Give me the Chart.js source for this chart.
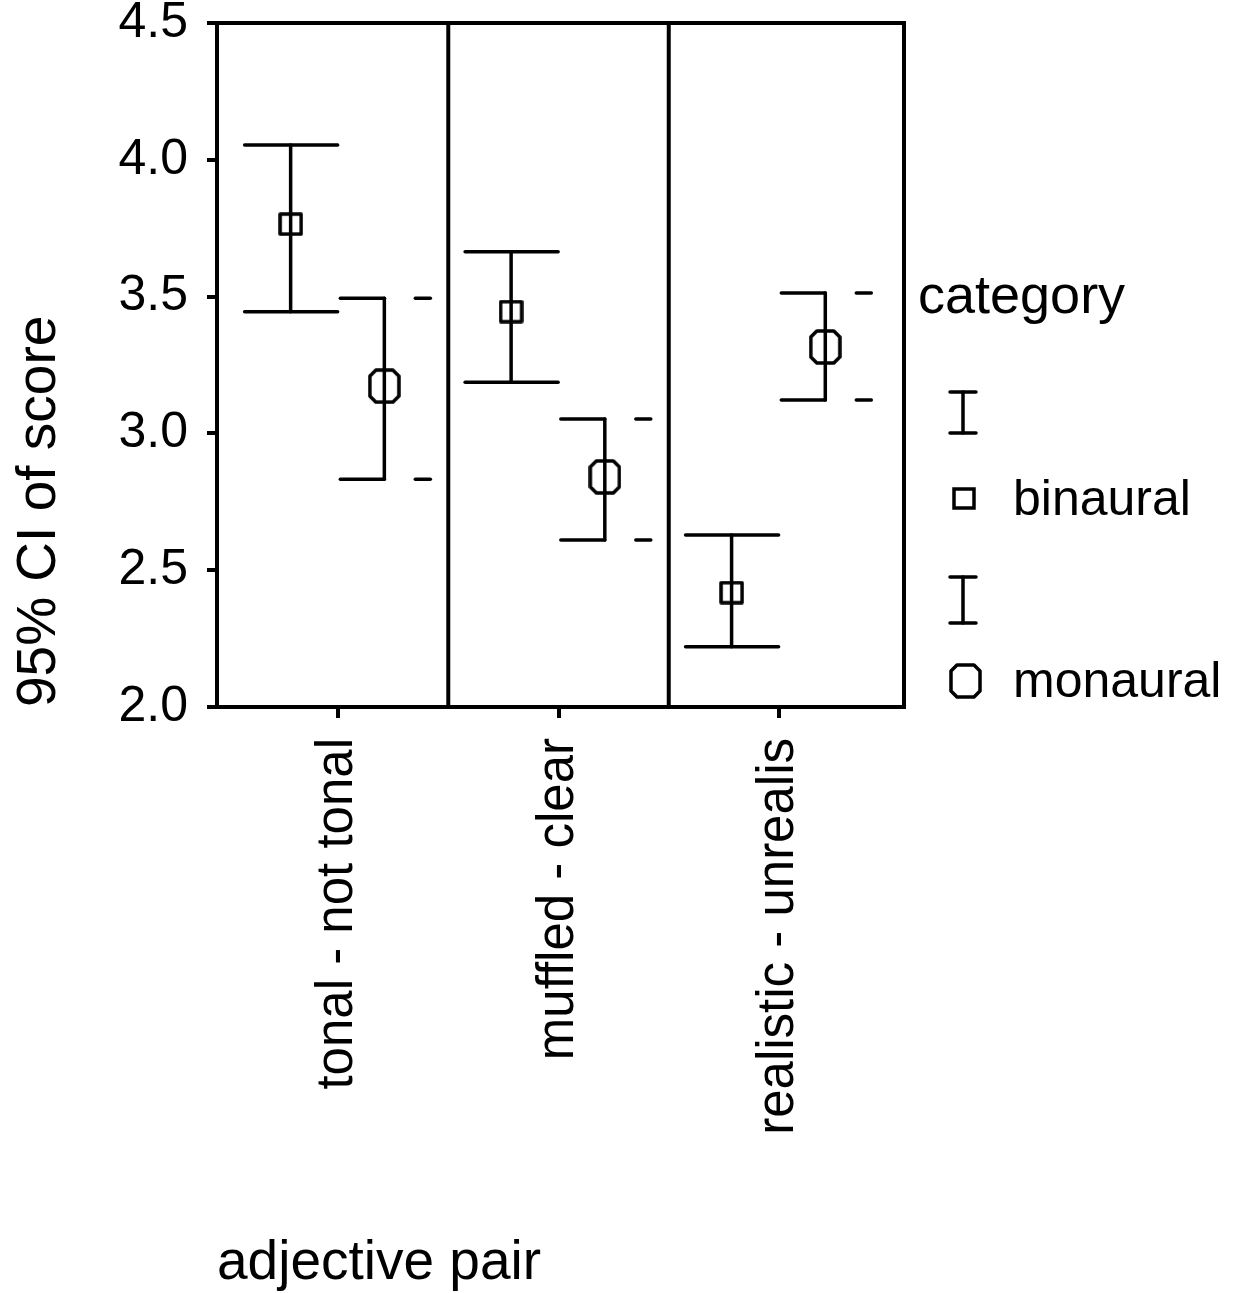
<!DOCTYPE html>
<html>
<head>
<meta charset="utf-8">
<script src="https://cdn.jsdelivr.net/npm/chart.js@4.4.1/dist/chart.umd.min.js"></script>
<style>
  html, body { margin: 0; padding: 0; background: #fff; }
  #wrap { width: 1233px; height: 1293px; position: relative; }
</style>
</head>
<body>
<div id="wrap"><canvas id="ciChart"></canvas></div>
<script>
const categories = ['tonal - not tonal', 'muffled - clear', 'realistic - unrealis'];
const binauralMean = [3.765, 3.445, 2.418];
const binauralLow = [3.445, 3.187, 2.220];
const binauralHigh = [4.054, 3.664, 2.629];
const monauralMean = [3.173, 2.841, 3.316];
const monauralLow = [2.832, 2.610, 3.122];
const monauralHigh = [3.494, 3.053, 3.513];
const yTicks = [2.0, 2.5, 3.0, 3.5, 4.0, 4.5];

const FONT = '"Liberation Sans", Arial, sans-serif';
const BIN_OFFSET = -0.215;
const MON_OFFSET = 0.21;
const LW = 3.5;

function makeOctagon(w, h, cut) {
    const c = document.createElement('canvas');
    c.width = w;
    c.height = h;
    const g = c.getContext('2d');
    const m = 2;
    g.lineWidth = LW;
    g.strokeStyle = '#000';
    g.lineJoin = 'round';
    g.beginPath();
    g.moveTo(m + cut, m);
    g.lineTo(w - m - cut, m);
    g.lineTo(w - m, m + cut);
    g.lineTo(w - m, h - m - cut);
    g.lineTo(w - m - cut, h - m);
    g.lineTo(m + cut, h - m);
    g.lineTo(m, h - m - cut);
    g.lineTo(m, m + cut);
    g.closePath();
    g.stroke();
    return c;
}

function makeSquare(w, h) {
    const c = document.createElement('canvas');
    c.width = w;
    c.height = h;
    const g = c.getContext('2d');
    g.lineWidth = LW;
    g.strokeStyle = '#000';
    g.lineJoin = 'round';
    g.strokeRect(2, 2, w - 4, h - 4);
    return c;
}

const octagon = makeOctagon(33, 36, 6);
const square = makeSquare(25, 24);

function seg(ctx, x1, y1, x2, y2) {
    ctx.beginPath();
    ctx.moveTo(x1, y1);
    ctx.lineTo(x2, y2);
    ctx.stroke();
}

// cadre + séparateurs verticaux
const frame = {
    id: 'frame',
    beforeDatasetsDraw(chart) {
        const { ctx, chartArea: a, scales: { x } } = chart;
        ctx.save();
        ctx.strokeStyle = '#000';
        ctx.lineWidth = 4;
        ctx.strokeRect(a.left, a.top, a.right - a.left, a.bottom - a.top);
        [0.5, 1.5].forEach(v => {
            const px = x.getPixelForValue(v);
            seg(ctx, px, a.top, px, a.bottom);
        });
        ctx.restore();
    }
};

// barres d'erreur (IC 95%)
const errorBars = {
    id: 'errorBars',
    beforeDatasetsDraw(chart) {
        const { ctx, scales: { x, y } } = chart;
        ctx.save();
        ctx.strokeStyle = '#000';
        ctx.lineWidth = LW;
        ctx.lineCap = 'round';
        categories.forEach((c, i) => {
            let px = x.getPixelForValue(i + BIN_OFFSET);
            let top = y.getPixelForValue(binauralHigh[i]);
            let bot = y.getPixelForValue(binauralLow[i]);
            seg(ctx, px, top, px, bot);
            seg(ctx, px - 46, top, px + 47, top);
            seg(ctx, px - 46, bot, px + 47, bot);

            px = x.getPixelForValue(i + MON_OFFSET);
            top = y.getPixelForValue(monauralHigh[i]);
            bot = y.getPixelForValue(monauralLow[i]);
            seg(ctx, px, top, px, bot);
            seg(ctx, px - 44, top, px, top);
            seg(ctx, px - 44, bot, px, bot);
            seg(ctx, px + 31, top, px + 46, top);
            seg(ctx, px + 31, bot, px + 46, bot);
        });
        ctx.restore();
    }
};

const legendBox = {
    id: 'legendBox',
    afterDraw(chart) {
        const ctx = chart.ctx;
        ctx.save();
        ctx.fillStyle = '#000';
        ctx.strokeStyle = '#000';
        ctx.lineWidth = LW;
        ctx.lineCap = 'round';
        ctx.textAlign = 'left';
        ctx.textBaseline = 'alphabetic';
        ctx.font = '54px ' + FONT;
        ctx.fillText('category', 918, 313);

        const drawI = (cx, top, bot) => {
            seg(ctx, cx, top, cx, bot);
            seg(ctx, cx - 13, top, cx + 13, top);
            seg(ctx, cx - 13, bot, cx + 13, bot);
        };
        drawI(963, 392, 433);
        drawI(963, 577, 623);

        ctx.strokeRect(954, 489, 20, 19);
        ctx.drawImage(octagon, 965 - 16, 681 - 18);

        ctx.font = '50px ' + FONT;
        ctx.fillText('binaural', 1013, 515);
        ctx.fillText('monaural', 1013, 697);
        ctx.restore();
    }
};

new Chart(document.getElementById('ciChart'), {
    type: 'scatter',
    data: {
        datasets: [{
            label: 'binaural',
            data: categories.map((c, i) => ({ x: i + BIN_OFFSET, y: binauralMean[i] })),
            pointStyle: square,
            pointRadius: 13,
            borderColor: '#000',
            backgroundColor: 'rgba(0,0,0,0)'
        }, {
            label: 'monaural',
            data: categories.map((c, i) => ({ x: i + MON_OFFSET, y: monauralMean[i] })),
            pointStyle: octagon,
            pointRadius: 17,
            borderColor: '#000',
            backgroundColor: 'rgba(0,0,0,0)'
        }]
    },
    options: {
        responsive: true,
        maintainAspectRatio: false,
        animation: false,
        events: [],
        layout: { padding: { top: 23, right: 329, left: 0, bottom: 0 } },
        plugins: {
            legend: { display: false },
            tooltip: { enabled: false }
        },
        scales: {
            x: {
                type: 'linear',
                min: -0.549,
                max: 2.567,
                afterBuildTicks: s => { s.ticks = categories.map((c, i) => ({ value: i })); },
                afterFit: s => { s.height = 586; s.paddingLeft = 0; s.paddingRight = 0; },
                grid: { drawOnChartArea: false, drawTicks: true, tickLength: 11, color: '#000', lineWidth: 4 },
                border: { display: true, color: '#000', width: 4 },
                ticks: {
                    autoSkip: false,
                    maxRotation: 90,
                    minRotation: 90,
                    padding: 20,
                    color: '#000',
                    font: { family: FONT, size: 51 },
                    callback: v => categories[v]
                },
                title: {
                    display: true,
                    text: 'adjective pair',
                    align: 'start',
                    color: '#000',
                    font: { family: FONT, size: 55, lineHeight: 1 },
                    padding: { top: 0, bottom: 2 }
                }
            },
            y: {
                min: 2,
                max: 4.5,
                afterBuildTicks: s => { s.ticks = yTicks.map(v => ({ value: v })); },
                afterFit: s => { s.width = 217; s.paddingTop = 0; s.paddingBottom = 0; },
                grid: { drawOnChartArea: false, drawTicks: true, tickLength: 10, color: '#000', lineWidth: 4 },
                border: { display: true, color: '#000', width: 4 },
                ticks: {
                    padding: 19,
                    color: '#000',
                    font: { family: FONT, size: 50 },
                    callback: v => v.toFixed(1)
                },
                title: {
                    display: true,
                    text: '95% CI of score',
                    align: 'start',
                    color: '#000',
                    font: { family: FONT, size: 55, lineHeight: 1 },
                    padding: { top: 12, bottom: 0 }
                }
            }
        }
    },
    plugins: [frame, errorBars, legendBox]
});
</script>
</body>
</html>
